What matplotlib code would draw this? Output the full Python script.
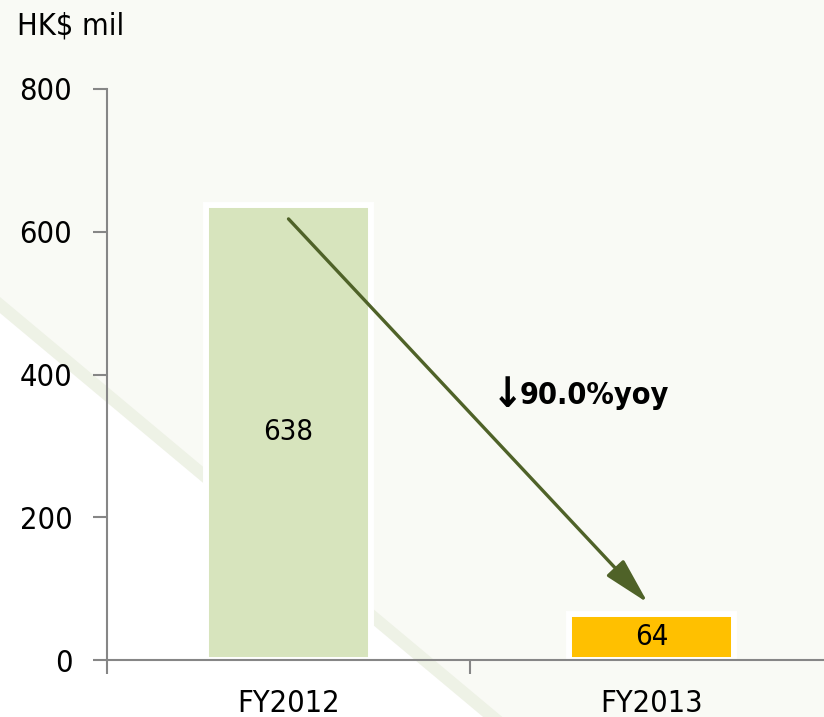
import matplotlib
matplotlib.use("Agg")
from matplotlib import pyplot as plt
from matplotlib.patches import Polygon
import numpy as np

categories = ["FY2012", "FY2013"]
values = [638, 64]
bar_colors = ["#d7e4bd", "#ffc000"]
yoy_arrow = "\u2193"
yoy_label = "90.0%yoy"
unit_label = "HK$ mil"
y_ticks = [0, 200, 400, 600, 800]

plt.rcParams['font.family'] = ['DejaVu Sans']
plt.rcParams['font.stretch'] = 'condensed'

W, H = 824, 717
fig = plt.figure(figsize=(W / 100, H / 100), dpi=100)
fig.patch.set_facecolor("#f9faf5")

# background: white area bottom-left, pale diagonal stripe
def fy(y):
    return 1 - y / H

def edge(x, off):
    return (x / W, fy(off + 0.836 * x))

white = Polygon([edge(0, 313), edge(600, 313), (600 / W, -0.1), (0, -0.1)],
                closed=True, transform=fig.transFigure, facecolor="white",
                edgecolor="none", zorder=0)
stripe = Polygon([edge(0, 297), edge(600, 297), edge(600, 313), edge(0, 313)],
                 closed=True, transform=fig.transFigure, facecolor="#eef2e6",
                 edgecolor="none", zorder=0)
fig.add_artist(white)
fig.add_artist(stripe)

ax = fig.add_axes([107 / W, 57 / H, 726 / W, 571 / H])
ax.set_facecolor("none")

x = np.arange(len(categories))
ax.bar(x, values, width=0.457, color=bar_colors, edgecolor="white",
       linewidth=4.3, zorder=2)

ax.set_xlim(-0.5, 1.5)
ax.set_ylim(0, 800)

for xi, v in zip(x, values):
    ax.text(xi, v / 2, str(v), ha="center", va="center", fontsize=21, zorder=4)

ax.annotate("", xy=(0.99, 80), xytext=(0, 618),
            arrowprops=dict(arrowstyle="-|>,head_length=1.2,head_width=0.3",
                            color="#4f6228", lw=2.4, mutation_scale=24,
                            shrinkA=0, shrinkB=0), zorder=5)

ax.text(0.560, 371, yoy_arrow, ha="left", va="center", fontsize=30,
        fontweight="bold", zorder=5)
ax.text(0.637, 371, yoy_label, ha="left", va="center", fontsize=22,
        fontweight="bold", zorder=5)

fig.text(17 / W, fy(26), unit_label, ha="left", va="center", fontsize=22)

for s in ["top", "right"]:
    ax.spines[s].set_visible(False)
for s in ["left", "bottom"]:
    ax.spines[s].set_color("#868686")
    ax.spines[s].set_linewidth(1.5)

ax.set_yticks(y_ticks)
ax.set_yticklabels([str(t) for t in y_ticks], fontsize=22)
ax.tick_params(axis="y", length=10, width=1.5, color="#868686", pad=15)

ax.set_xticks(x)
ax.set_xticklabels(categories, fontsize=22)
ax.set_xticks([-0.5, 0.5, 1.5], minor=True)
ax.tick_params(axis="x", which="major", length=0, pad=21)
ax.tick_params(axis="x", which="minor", length=10, width=1.5, color="#868686")

fig.savefig("out.png", dpi=100, facecolor=fig.get_facecolor())
